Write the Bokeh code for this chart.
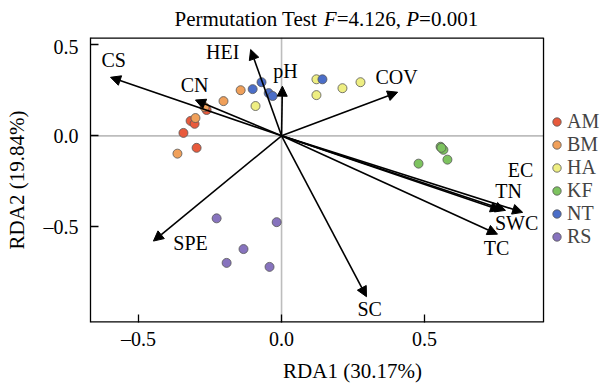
from bokeh.plotting import figure
from bokeh.layouts import column
from bokeh.models import (ColumnDataSource, Arrow, NormalHead, Legend, LegendItem,
                          FixedTicker, Range1d, CustomJSTickFormatter)
from bokeh.core.properties import value
from bokeh.embed import file_html
from bokeh.resources import INLINE

# ---- data ----
groups = ["AM", "BM", "HA", "KF", "NT", "RS"]
group_colors = ["#E85A3C", "#F0A05A", "#EEEE82", "#7DC35F", "#4B6EC8", "#8773BE"]

am_x = [-0.262, -0.318, -0.304, -0.343, -0.297]
am_y = [0.142, 0.082, 0.066, 0.016, -0.066]
bm_x = [-0.143, -0.203, -0.269, -0.301, -0.364]
bm_y = [0.251, 0.191, 0.158, 0.098, -0.098]
ha_x = [-0.091, 0.122, 0.122, 0.213, 0.276]
ha_y = [0.164, 0.311, 0.224, 0.262, 0.295]
kf_x = [0.556, 0.566, 0.559, 0.580, 0.479]
kf_y = [-0.060, -0.077, -0.066, -0.131, -0.153]
nt_x = [-0.070, -0.101, -0.045, -0.031, 0.143]
nt_y = [0.295, 0.257, 0.235, 0.219, 0.311]
rs_x = [-0.227, -0.017, -0.133, -0.192, -0.042]
rs_y = [-0.454, -0.475, -0.623, -0.699, -0.721]
group_x = [am_x, bm_x, ha_x, kf_x, nt_x, rs_x]
group_y = [am_y, bm_y, ha_y, kf_y, nt_y, rs_y]

env_names = ["CS", "HEI", "pH", "CN", "COV", "SPE", "SC", "TC", "EC", "TN", "SWC"]
env_rda1 = [-0.598, -0.108, 0.003, -0.301, 0.406, -0.448, 0.297, 0.755, 0.766, 0.783, 0.843]
env_rda2 = [0.322, 0.475, 0.273, 0.197, 0.240, -0.579, -0.885, -0.541, -0.410, -0.410, -0.421]
label_rda1 = [-0.587, -0.206, 0.014, -0.304, 0.402, -0.318, 0.308, 0.752, 0.836, 0.794, 0.822]
label_rda2 = [0.415, 0.459, 0.355, 0.279, 0.322, -0.590, -0.951, -0.617, -0.186, -0.301, -0.481]

x_ticks = [-0.5, 0.0, 0.5]
y_ticks = [-0.5, 0.0, 0.5]
x_limits = [-0.668, 0.916]
y_limits = [-1.027, 0.541]
x_title = "RDA1 (30.17%)"
y_title = "RDA2 (19.84%)"
title_parts = ["Permutation Test", "F", "=4.126,", "P", "=0.001"]
title_italic = [False, True, False, True, False]

FONT = "Liberation Serif"
FS = "20px"
FS_T = "21px"

# ---- title strip (mixed upright / italic text) ----
t = figure(width=614, height=35, output_backend="svg", toolbar_location=None,
           x_range=Range1d(90, 614), y_range=Range1d(0, 35),
           x_axis_location=None, y_axis_location=None,
           min_border_left=90, min_border_right=0, min_border_top=0, min_border_bottom=0)
t.grid.visible = False
t.outline_line_color = None
S = 21.0
em = [6.861, 0.611, 3.064, 0.611, 2.814]
gaps = [0.25, 0.0, 0.25, 0.0, 0.0]
cur = 174.0
for txt, it, w, g in zip(title_parts, title_italic, em, gaps):
    t.text(x=[cur], y=[17], text=[txt], text_font=value(FONT), text_font_size=FS_T,
           text_font_style="italic" if it else "normal",
           text_align="left", text_baseline="middle", text_color="black")
    cur += (w + g) * S

# ---- main plot: frame extends to the right edge so the legend is not clipped ----
px_per_x = 286.0
x_right = x_limits[0] + 524.0 / px_per_x
p = figure(width=614, height=350, output_backend="svg", toolbar_location=None,
           x_range=Range1d(x_limits[0], x_right), y_range=Range1d(y_limits[0], y_limits[1]),
           min_border_left=90, min_border_top=2, min_border_bottom=61,
           min_border_right=0)
p.title.visible = False
p.grid.visible = False
p.outline_line_color = None

fmt = CustomJSTickFormatter(code="return tick < 0 ? '\u2013' + Math.abs(tick).toFixed(1) : tick.toFixed(1);")
p.xaxis.ticker = FixedTicker(ticks=x_ticks)
p.yaxis.ticker = FixedTicker(ticks=y_ticks)
for ax in (p.xaxis[0], p.yaxis[0]):
    ax.formatter = fmt
    ax.major_tick_in = 8
    ax.major_tick_out = 0
    ax.minor_tick_line_color = None
    ax.major_tick_line_width = 1.3
    ax.axis_line_width = 1.3
    ax.axis_line_color = "black"
    ax.major_label_text_font = FONT
    ax.major_label_text_font_size = FS
    ax.major_label_text_color = "black"
    ax.axis_label_text_font = FONT
    ax.axis_label_text_font_size = FS_T
    ax.axis_label_text_font_style = "normal"
    ax.axis_label_text_color = "black"
p.xaxis.axis_line_color = None
p.xaxis.axis_label = x_title
p.yaxis.axis_label = y_title
p.xaxis.major_label_standoff = 5
p.xaxis.axis_label_standoff = 6
p.yaxis.major_label_standoff = 12
p.yaxis.axis_label_standoff = 12

# zero lines
p.segment(x0=[x_limits[0], 0.0], y0=[0.0, y_limits[0]], x1=[x_limits[1], 0.0], y1=[0.0, y_limits[1]],
          line_color="#bdbdbd", line_width=1.6)
# panel border (top, bottom, right); the left edge is the y axis line
p.segment(x0=[x_limits[0], x_limits[0]], y0=[y_limits[1], y_limits[0]],
          x1=[x_limits[1], x_limits[1]], y1=[y_limits[1], y_limits[0]],
          line_color="black", line_width=2.6)
p.segment(x0=[x_limits[1]], y0=[y_limits[0]], x1=[x_limits[1]], y1=[y_limits[1]],
          line_color="black", line_width=1.3)

items = []
for g, c, xs, ys in zip(groups, group_colors, group_x, group_y):
    r = p.scatter(xs, ys, size=9, fill_color=c, line_color="#555555", line_width=0.8)
    items.append(LegendItem(label=g, renderers=[r]))

n = len(env_names)
src = ColumnDataSource(dict(x0=[0.0] * n, y0=[0.0] * n, x1=env_rda1, y1=env_rda2))
p.add_layout(Arrow(end=NormalHead(size=10, fill_color="black", line_color="black", line_width=1),
                   x_start="x0", y_start="y0", x_end="x1", y_end="y1", source=src,
                   line_width=1.6, line_color="black"))

p.text(x=label_rda1, y=label_rda2, text=env_names, text_font=value(FONT), text_font_size=FS,
       text_align="center", text_baseline="middle", text_color="black")

legend = Legend(items=items, location=(456, 74), label_text_font=FONT, label_text_font_size=FS,
                glyph_width=21, glyph_height=23, label_height=20, label_standoff=0,
                padding=6, margin=0, spacing=0, border_line_color=None,
                background_fill_alpha=0)
p.add_layout(legend)

open("out.html", "w").write(file_html(column(t, p, spacing=0), INLINE))
